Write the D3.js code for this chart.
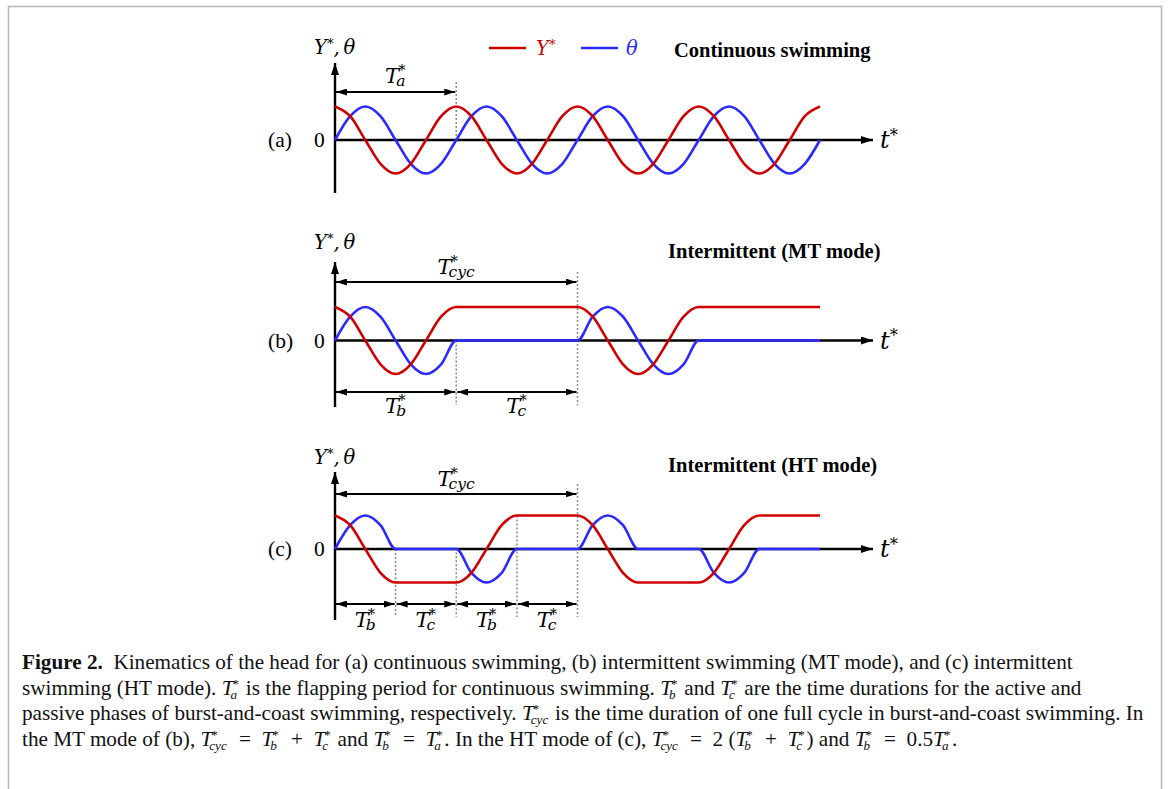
<!DOCTYPE html>
<meta charset="utf-8">
<script src="https://d3js.org/d3.v7.min.js"></script>
<style>
  body { margin: 0; background: #fff; }
  text { white-space: pre; }
</style>
<div id="fig"></div>
<script>
// ---- data: t* in units of the flapping period T*a, Y* and theta normalised to +-1 ----
// (a) continuous swimming
var tA  = [0,0.125,0.25,0.375,0.5,0.625,0.75,0.875, 1,1.125,1.25,1.375,1.5,1.625,1.75,1.875,
           2,2.125,2.25,2.375,2.5,2.625,2.75,2.875, 3,3.125,3.25,3.375,3.5,3.625,3.75,3.875, 4];
var yA  = [1,0.71,0,-0.71,-1,-0.71,0,0.71, 1,0.71,0,-0.71,-1,-0.71,0,0.71,
           1,0.71,0,-0.71,-1,-0.71,0,0.71, 1,0.71,0,-0.71,-1,-0.71,0,0.71, 1];
var thA = [0,0.71,1,0.71,0,-0.71,-1,-0.71, 0,0.71,1,0.71,0,-0.71,-1,-0.71,
           0,0.71,1,0.71,0,-0.71,-1,-0.71, 0,0.71,1,0.71,0,-0.71,-1,-0.71, 0];
// (b) intermittent, MT mode
var tB  = [0,0.125,0.25,0.375,0.5,0.625,0.75,0.875,1, 2,2.125,2.25,2.375,2.5,2.625,2.75,2.875,3, 4];
var yB  = [1,0.71,0,-0.71,-1,-0.71,0,0.71,1, 1,0.71,0,-0.71,-1,-0.71,0,0.71,1, 1];
var thB = [0,0.71,1,0.71,0,-0.71,-1,-0.71,0, 0,0.71,1,0.71,0,-0.71,-1,-0.71,0, 0];
// (c) intermittent, HT mode
var tC  = [0,0.125,0.25,0.375,0.5, 1,1.125,1.25,1.375,1.5, 2,2.125,2.25,2.375,2.5, 3,3.125,3.25,3.375,3.5, 4];
var yC  = [1,0.71,0,-0.71,-1, -1,-0.71,0,0.71,1, 1,0.71,0,-0.71,-1, -1,-0.71,0,0.71,1, 1];
var thC = [0,0.71,1,0.71,0, 0,-0.71,-1,-0.71,0, 0,0.71,1,0.71,0, 0,-0.71,-1,-0.71,0, 0];

// dimension arrows (from, to, subscript) and dotted guides (t, top value)
var topSpansA = [[0, 1, "a"]];
var topSpansB = [[0, 2, "cyc"]];
var botSpansB = [[0, 1, "b"], [1, 2, "c"]];
var topSpansC = [[0, 2, "cyc"]];
var botSpansC = [[0, 0.5, "b"], [0.5, 1, "c"], [1, 1.5, "b"], [1.5, 2, "c"]];
var guidesA = [[1, "span"]];
var guidesB = [[1, 0], [2, "span"]];
var guidesC = [[0.5, 0], [1, -0.1], [1.5, 1], [2, "span"]];

var panelLetters = ["(a)", "(b)", "(c)"];
var panelTitles = ["Continuous swimming", "Intermittent (MT mode)", "Intermittent (HT mode)"];

var width = 1168, height = 789;
var red = "#d00000", blue = "#2a2aff";
var mathFont = "'DejaVu Serif', serif";
var romanFont = "'Liberation Serif', 'Times New Roman', serif";
var amp = 33.5, axisEnd = 873;

var svg = d3.select("#fig").append("svg")
    .attr("width", width)
    .attr("height", height);

// page frame
svg.append("path")
  .attr("d", "M8.5,789 V6.5 H1161.5 V789")
  .attr("fill", "none")
  .attr("stroke", "#b8b8b8")
  .attr("stroke-width", 1.5);

var defs = svg.append("defs");
function marker(id, len, wid) {
  defs.append("marker")
    .attr("id", id)
    .attr("viewBox", "0 0 " + len + " " + wid)
    .attr("refX", len).attr("refY", wid / 2)
    .attr("markerWidth", len).attr("markerHeight", wid)
    .attr("markerUnits", "userSpaceOnUse")
    .attr("orient", "auto-start-reverse")
    .append("path")
      .attr("d", "M0,0 L" + len + "," + (wid / 2) + " L0," + wid + " Z")
      .attr("fill", "#000");
}
marker("head", 11, 7);
marker("axhead", 12, 8);

var x = d3.scaleLinear().domain([0, 4]).range([335, 820]);

// T with a star above and a subscript below, centred on cx
function tLabel(cx, base, sub, size) {
  var g = svg.append("g");
  var T = g.append("text").attr("x", 0).attr("y", 0)
    .style("font-family", mathFont).style("font-style", "italic").style("font-size", size + "px").text("T");
  var w = T.node().getComputedTextLength();
  g.append("text").attr("x", w - 1).attr("y", -size * 0.36)
    .style("font-family", mathFont).style("font-size", (size * 0.7) + "px").text("*");
  g.append("text").attr("x", w - size * 0.14).attr("y", size * 0.16)
    .style("font-family", mathFont).style("font-style", "italic").style("font-size", (size * 0.74) + "px").text(sub);
  var bb = g.node().getBBox();
  g.attr("transform", "translate(" + (cx - bb.x - bb.width / 2) + "," + base + ")");
}

function starText(xp, base, main, rest, size, color, anchor) {
  var t = svg.append("text")
    .attr("x", xp).attr("y", base)
    .attr("text-anchor", anchor || "start")
    .style("font-family", mathFont).style("font-style", "italic").style("font-size", size + "px")
    .style("fill", color || "#000");
  t.append("tspan").text(main);
  t.append("tspan").attr("dy", -size * 0.3).style("font-style", "normal").style("font-size", (size * 0.68) + "px").text("*");
  if (rest) t.append("tspan").attr("dy", size * 0.3).text(rest);
  return t;
}

function span(x1, x2, yy) {
  svg.append("line")
    .attr("x1", x1 + 1).attr("x2", x2 - 1).attr("y1", yy).attr("y2", yy)
    .attr("stroke", "#000").attr("stroke-width", 1.8)
    .attr("marker-start", "url(#head)").attr("marker-end", "url(#head)");
}

var panels = [
  {t: tA, Y: yA, th: thA, top: topSpansA, bot: [], guides: guidesA,
   zero: 140, axTop: 63, axBot: 193, yLab: 54, title: 57, topY: 92, topLab: 83},
  {t: tB, Y: yB, th: thB, top: topSpansB, bot: botSpansB, guides: guidesB,
   zero: 340.5, axTop: 262, axBot: 407, yLab: 249, title: 258, topY: 282, topLab: 274, botY: 392, botLab: 413},
  {t: tC, Y: yC, th: thC, top: topSpansC, bot: botSpansC, guides: guidesC,
   zero: 549, axTop: 472, axBot: 620, yLab: 464, title: 472, topY: 494, topLab: 486, botY: 604, botLab: 627}
];

panels.forEach(function(p, i) {
  var y = d3.scaleLinear().domain([-1, 1]).range([p.zero + amp, p.zero - amp]);

  // dotted guides
  p.guides.forEach(function(gd) {
    var y1 = gd[1] === "span" ? p.topY - 10 : y(gd[1]);
    svg.append("line")
      .attr("x1", x(gd[0])).attr("x2", x(gd[0]))
      .attr("y1", y1).attr("y2", p.bot.length ? p.botY + 13 : y(0))
      .attr("stroke", "#8a8a8a").attr("stroke-width", 1.5)
      .attr("stroke-dasharray", "2,2");
  });

  // axes
  svg.append("line")
    .attr("x1", x(0)).attr("x2", x(0)).attr("y1", p.axBot).attr("y2", p.axTop)
    .attr("stroke", "#000").attr("stroke-width", 2.4).attr("marker-end", "url(#axhead)");
  svg.append("line")
    .attr("x1", x(0)).attr("x2", axisEnd).attr("y1", y(0)).attr("y2", y(0))
    .attr("stroke", "#000").attr("stroke-width", 2.4).attr("marker-end", "url(#axhead)");

  svg.append("text").attr("x", 268).attr("y", p.zero + 7)
    .style("font-family", romanFont).style("font-size", "21.5px").text(panelLetters[i]);
  svg.append("text").attr("x", 314).attr("y", p.zero + 7)
    .style("font-family", romanFont).style("font-size", "21.5px").text("0");
  starText(314, p.yLab, "Y", ",\u2009\u03b8", 19.5);
  starText(880, p.zero + 8, "t", null, 24);

  svg.append("text")
    .attr("x", i === 0 ? 674 : 668).attr("y", p.title)
    .style("font-family", romanFont).style("font-weight", "bold").style("font-size", "20.5px")
    .text(panelTitles[i]);

  // curves
  var line = d3.line()
    .x(function(d) { return x(d[0]); })
    .y(function(d) { return y(d[1]); })
    .curve(d3.curveMonotoneX);
  svg.append("path").datum(d3.zip(p.t, p.th))
    .attr("d", line).attr("fill", "none").attr("stroke", blue).attr("stroke-width", 2.6);
  svg.append("path").datum(d3.zip(p.t, p.Y))
    .attr("d", line).attr("fill", "none").attr("stroke", red).attr("stroke-width", 2.6);

  // dimension arrows
  p.top.forEach(function(s) {
    span(x(s[0]), x(s[1]), p.topY);
    tLabel((x(s[0]) + x(s[1])) / 2, p.topLab, s[2], 21);
  });
  p.bot.forEach(function(s) {
    span(x(s[0]), x(s[1]), p.botY);
    tLabel((x(s[0]) + x(s[1])) / 2, p.botLab, s[2], 21);
  });
});

// legend
svg.append("line").attr("x1", 489).attr("x2", 526).attr("y1", 48).attr("y2", 48)
  .attr("stroke", red).attr("stroke-width", 2.6);
starText(536, 55, "Y", null, 19.5, red);
svg.append("line").attr("x1", 581).attr("x2", 618).attr("y1", 48).attr("y2", 48)
  .attr("stroke", blue).attr("stroke-width", 2.6);
svg.append("text").attr("x", 626).attr("y", 55)
  .style("font-family", mathFont).style("font-style", "italic").style("font-size", "19.5px")
  .style("fill", blue).text("\u03b8");

// caption (math operators get wider spacing, as in the typeset original)
var capSize = 21.2;
var EQ = "\u2002=\u2002", PLUS = "\u2002+\u2002";
var capLines = [
  [{b: "Figure 2."}, "  Kinematics of the head for (a) continuous swimming, (b) intermittent swimming (MT mode), and (c) intermittent"],
  ["swimming (HT mode). ", {m: "a"}, " is the flapping period for continuous swimming. ", {m: "b"}, " and ", {m: "c"}, " are the time durations for the active and"],
  ["passive phases of burst-and-coast swimming, respectively. ", {m: "cyc"}, " is the time duration of one full cycle in burst-and-coast swimming. In"],
  ["the MT mode of (b), ", {m: "cyc"}, EQ, {m: "b"}, PLUS, {m: "c"}, " and ", {m: "b"}, EQ, {m: "a"}, ". In the HT mode of (c), ",
   {m: "cyc"}, EQ + "2 (", {m: "b"}, PLUS, {m: "c"}, ") and ", {m: "b"}, EQ + "0.5", {m: "a"}, "."]
];
var capBase = [669, 695, 720, 746];

function capText(xp, yp, str, size, italic, bold) {
  var t = svg.append("text").attr("x", xp).attr("y", yp)
    .style("font-family", romanFont).style("font-size", size + "px")
    .style("font-style", italic ? "italic" : "normal")
    .style("font-weight", bold ? "bold" : "normal")
    .style("fill", "#111")
    .text(str);
  return t.node().getComputedTextLength();
}

capLines.forEach(function(tokens, li) {
  var cx = 22, yb = capBase[li];
  tokens.forEach(function(tok) {
    if (typeof tok === "string") {
      cx += capText(cx, yb, tok, capSize, false, false);
    } else if (tok.b) {
      cx += capText(cx, yb, tok.b, capSize, false, true);
    } else {
      var w = capText(cx, yb, "T", capSize, true, false);
      var ws = capText(cx + w - 1, yb - 7.5, "*", capSize * 0.62, false, false);
      var wb = capText(cx + w - 3, yb + 4, tok.m, capSize * 0.62, true, false);
      cx += w + Math.max(ws - 1, wb - 3) + 1.5;
    }
  });
});
</script>
